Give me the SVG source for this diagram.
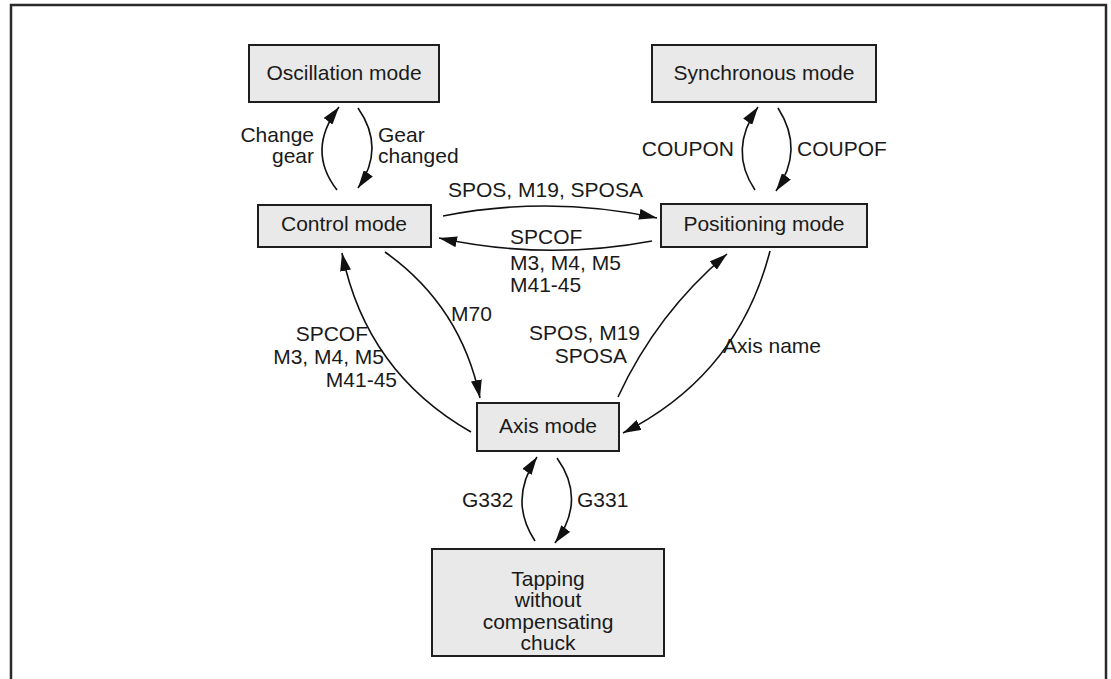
<svg xmlns="http://www.w3.org/2000/svg" width="1111" height="679" viewBox="0 0 1111 679">
<defs>
<style>
.box{fill:#e8e9e8;stroke:#1e1e1e;stroke-width:2}
.t{font-family:"Liberation Sans",Arial,sans-serif;font-size:21px;fill:#1a1a1a}
.c{text-anchor:middle}
.e{text-anchor:end}
.ln{fill:none;stroke:#111;stroke-width:1.6;marker-end:url(#ah)}
</style>
<marker id="ah" markerUnits="userSpaceOnUse" markerWidth="19" markerHeight="11" refX="18" refY="5.5" orient="auto">
<path d="M0,0 L18,5.5 L0,11 z" fill="#111"/>
</marker>
</defs>
<rect width="1111" height="679" fill="#fff"/>
<path d="M11,679 V5 H1106 V679" fill="none" stroke="#2a2a2a" stroke-width="2.5"/>

<g id="oscillation">
<rect class="box" x="249" y="45" width="190" height="57"/>
<text class="t c" x="344" y="80">Oscillation mode</text>
</g>
<g id="synchronous">
<rect class="box" x="652" y="45" width="224" height="57"/>
<text class="t c" x="764" y="80">Synchronous mode</text>
</g>
<g id="control">
<rect class="box" x="258" y="205" width="173" height="42"/>
<text class="t c" x="344" y="231">Control mode</text>
</g>
<g id="positioning">
<rect class="box" x="661" y="204" width="206" height="43"/>
<text class="t c" x="764" y="231">Positioning mode</text>
</g>
<g id="axis">
<rect class="box" x="477" y="403" width="142" height="48"/>
<text class="t c" x="548" y="433">Axis mode</text>
</g>
<g id="tapping">
<rect class="box" x="432" y="549" width="232" height="107"/>
<text class="t c" x="548" y="586">Tapping</text>
<text class="t c" x="548" y="607">without</text>
<text class="t c" x="548" y="629">compensating</text>
<text class="t c" x="548" y="650">chuck</text>
</g>

<g id="connectors">
<path class="ln" d="M337,190 Q306,150 339,107"/>
<path class="ln" d="M358,108 Q386,148 358,188"/>
<path class="ln" d="M755,190 Q728,150 758,107"/>
<path class="ln" d="M778,108 Q805,150 776,191"/>
<path class="ln" d="M443,216 Q550,195 657,218"/>
<path class="ln" d="M652,241 Q546,261 439,238"/>
<path class="ln" d="M385,252 Q461,306 480,398"/>
<path class="ln" d="M471,432 Q366,372 342,253"/>
<path class="ln" d="M618,397 Q657,313 727,254"/>
<path class="ln" d="M770,251 Q738,375 623,433"/>
<path class="ln" d="M535,541 Q508,500 537,457"/>
<path class="ln" d="M557,458 Q587,500 555,543"/>
</g>

<g id="labels">
<text class="t e" x="314" y="142">Change</text>
<text class="t e" x="314" y="163">gear</text>
<text class="t" x="378" y="142">Gear</text>
<text class="t" x="378" y="163">changed</text>
<text class="t e" x="734" y="156">COUPON</text>
<text class="t" x="797" y="156">COUPOF</text>
<text class="t" x="448" y="197">SPOS, M19, SPOSA</text>
<text class="t" x="510" y="244">SPCOF</text>
<text class="t" x="510" y="270">M3, M4, M5</text>
<text class="t" x="510" y="292">M41-45</text>
<text class="t e" x="368" y="341">SPCOF</text>
<text class="t e" x="384" y="364">M3, M4, M5</text>
<text class="t e" x="397" y="387">M41-45</text>
<text class="t" x="451" y="321">M70</text>
<text class="t e" x="640" y="340">SPOS, M19</text>
<text class="t e" x="627" y="363">SPOSA</text>
<text class="t" x="723" y="353">Axis name</text>
<text class="t" x="462" y="507">G332</text>
<text class="t" x="577" y="507">G331</text>
</g>
</svg>
